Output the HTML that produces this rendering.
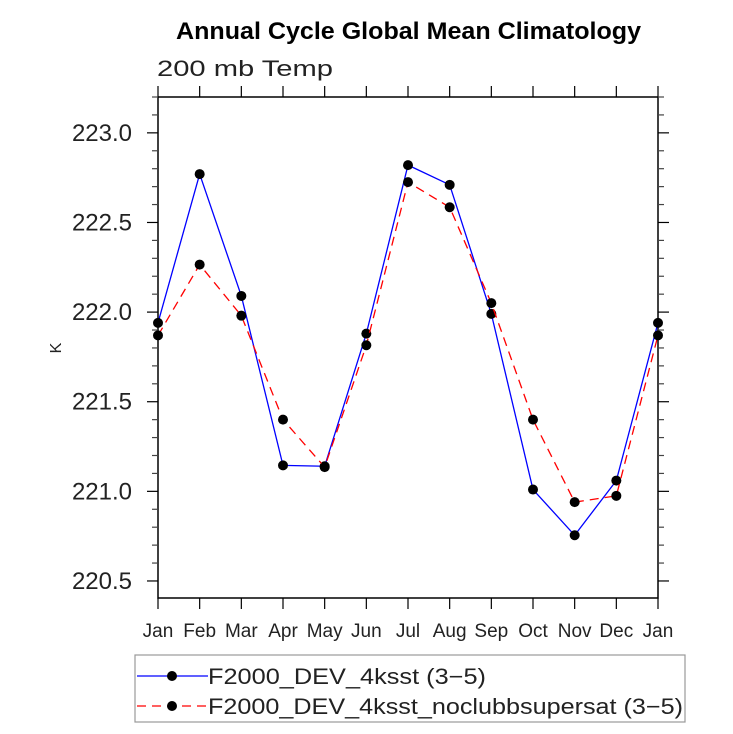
<!DOCTYPE html>
<html><head><meta charset="utf-8"><style>
body{margin:0;background:#fff}
svg text{font-family:"Liberation Sans",sans-serif}
</style></head><body>
<svg id="chart" width="733" height="729" viewBox="0 0 733 729">
<text x="176" y="39" font-size="24" font-weight="bold" textLength="465" lengthAdjust="spacingAndGlyphs">Annual Cycle Global Mean Climatology</text>
<text x="157" y="76" font-size="22" fill="#222" textLength="176" lengthAdjust="spacingAndGlyphs">200 mb Temp</text>
<text x="61" y="348" font-size="16" transform="rotate(-90 61 348)" text-anchor="middle" fill="#222">K</text>
<g id="axes"></g>
<g id="series"></g>
<g id="legend">
<rect x="135" y="655" width="550" height="67" fill="none" stroke="#999" stroke-width="1.2"/>
<g>
<line x1="137" y1="676" x2="208" y2="676" stroke="#00f" stroke-width="1.3"/>
<circle cx="172" cy="676" r="5" fill="#000"/>
<text x="208" y="684" font-size="22" fill="#222" textLength="278" lengthAdjust="spacingAndGlyphs">F2000_DEV_4ksst (3−5)</text></g>
<g>
<line x1="137" y1="706" x2="208" y2="706" stroke="#f00" stroke-width="1.3" stroke-dasharray="9,6"/>
<circle cx="172" cy="706" r="5" fill="#000"/>
<text x="208" y="714" font-size="22" fill="#222" textLength="475" lengthAdjust="spacingAndGlyphs">F2000_DEV_4ksst_noclubbsupersat (3−5)</text></g>
</g>
</svg>
<script>
const months=["Jan","Feb","Mar","Apr","May","Jun","Jul","Aug","Sep","Oct","Nov","Dec","Jan"];
const seriesBlue=[221.94,222.77,222.09,221.145,221.14,221.88,222.82,222.71,221.99,221.01,220.755,221.06,221.94];
const seriesRed=[221.87,222.265,221.98,221.40,221.135,221.815,222.725,222.585,222.05,221.40,220.94,220.975,221.87];
const yTicks=[220.5,221.0,221.5,222.0,222.5,223.0];
const yMin=220.405,yMax=223.2;
const L=158,R=658,T=97,B=598;
const xs=i=>L+(R-L)*i/(months.length-1);
const ys=v=>B-(v-yMin)/(yMax-yMin)*(B-T);
const NS="http://www.w3.org/2000/svg";
function mk(tag,at,parent){const e=document.createElementNS(NS,tag);for(const k in at)e.setAttribute(k,at[k]);parent.appendChild(e);return e;}
const ax=document.getElementById('axes');
const frame=mk('rect',{x:L,y:T,width:R-L,height:B-T,fill:'none',stroke:'#000','stroke-width':1.5},ax);


months.forEach((m,i)=>{const x=xs(i);
 mk('line',{x1:x,y1:B,x2:x,y2:B+11,stroke:'#000','stroke-width':1.2},ax);
 mk('line',{x1:x,y1:T,x2:x,y2:T-11,stroke:'#000','stroke-width':1.2},ax);
 const t=mk('text',{x:x,y:B+39,'text-anchor':'middle','font-size':19,fill:'#222'},ax);t.textContent=m;
 
 
});
for(let v=220.5;v<=yMax+1e-9;v+=0.1){const y=ys(v);
 const major=yTicks.some(t=>Math.abs(t-v)<1e-6);const len=major?11:6;
 mk('line',{x1:L-len,y1:y,x2:L,y2:y,stroke:major?'#000':'#444','stroke-width':1.2},ax);
 mk('line',{x1:R,y1:y,x2:R+len,y2:y,stroke:major?'#000':'#444','stroke-width':1.2},ax);}
yTicks.forEach(v=>{const t=mk('text',{x:132,y:ys(v)+8,'text-anchor':'end','font-size':24,fill:'#222'},ax);t.textContent=v.toFixed(1);
 
 });
const sg=document.getElementById('series');
function draw(data,color,dash,name){
 const g=mk('g',{},sg);
 
 
 const p=mk('polyline',{points:data.map((v,i)=>xs(i)+','+ys(v)).join(' '),fill:'none',stroke:color,'stroke-width':1.3},g);
 if(dash)p.setAttribute('stroke-dasharray',dash);
 data.forEach((v,i)=>{const c=mk('circle',{cx:xs(i),cy:ys(v),r:5,fill:'#000'},g);
  
  });
}
draw(seriesBlue,'#00f',null,'series-blue');
draw(seriesRed,'#f00','9,6','series-red');
</script>
</body></html>
